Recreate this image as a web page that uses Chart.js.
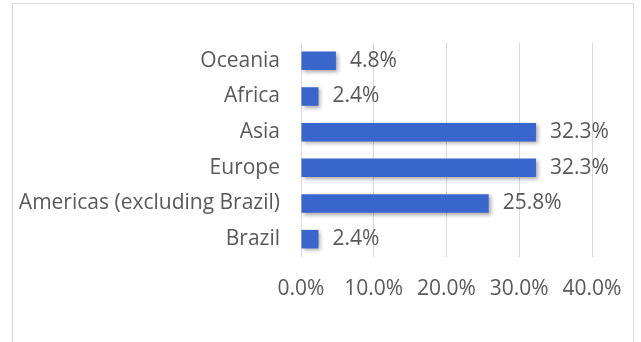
<!DOCTYPE html>
<html>
<head>
<meta charset="utf-8">
<script src="https://cdn.jsdelivr.net/npm/chart.js@4.4.0/dist/chart.umd.min.js"></script>
<style>
  html, body { margin: 0; padding: 0; background: #fff; }
  #wrap { position: relative; width: 641px; height: 342px; overflow: hidden; }
  #frame { position: absolute; left: 12px; top: 3px; width: 622px; height: 360px; border: 1px solid #d9d9d9; box-sizing: border-box; }
  #c { position: absolute; left: 0; top: 0; }
</style>
</head>
<body>
<div id="wrap">
  <div id="frame"></div>
  <canvas id="c" width="641" height="342"></canvas>
</div>
<script>
// regions, top to bottom as in the chart
const regions = ["Oceania", "Africa", "Asia", "Europe", "Americas (excluding Brazil)", "Brazil"];
const shares = [4.8, 2.4, 32.3, 32.3, 25.8, 2.4];
const axisTicks = [0, 10, 20, 30, 40];

const textColor = "#595959";
const fontFamily = "'Open Sans', sans-serif";
const fontSize = 21;

const pct = (v) => v.toFixed(1) + "%";

// bar shadow, a bit like the excel one
const shadowPlugin = {
  id: "barShadow",
  beforeDatasetsDraw(chart) {
    const ctx = chart.ctx;
    ctx.save();
    ctx.shadowColor = "rgba(0,0,0,0.35)";
    ctx.shadowBlur = 4;
    ctx.shadowOffsetX = 2;
    ctx.shadowOffsetY = 2;
  },
  afterDatasetsDraw(chart) {
    chart.ctx.restore();
  }
};

// value labels right of each bar
const valueLabels = {
  id: "valueLabels",
  afterDraw(chart) {
    const ctx = chart.ctx;
    const meta = chart.getDatasetMeta(0);
    ctx.save();
    ctx.font = fontSize + "px " + fontFamily;
    ctx.fillStyle = textColor;
    ctx.textAlign = "left";
    ctx.textBaseline = "middle";
    meta.data.forEach((bar, i) => {
      ctx.fillText(pct(shares[i]), bar.x + 14, bar.y);
    });
    ctx.restore();
  }
};

const chart = new Chart(document.getElementById("c"), {
  type: "bar",
  data: {
    labels: regions,
    datasets: [{
      data: shares,
      backgroundColor: "#3866cc",
      borderWidth: 0,
      barPercentage: 0.52,
      categoryPercentage: 1.0
    }]
  },
  options: {
    indexAxis: "y",
    responsive: false,
    animation: false,
    layout: { padding: { top: 43, right: 49, left: 0, bottom: 0 } },
    plugins: {
      legend: { display: false },
      tooltip: { enabled: false }
    },
    scales: {
      x: {
        min: 0,
        max: 40,
        afterBuildTicks: (scale) => {
          scale.ticks = axisTicks.map(v => ({ value: v }));
        },
        afterFit: (scale) => { scale.height = 85; },
        grid: { color: "#d9d9d9", drawTicks: false },
        border: { display: false },
        ticks: {
          padding: 19,
          color: textColor,
          font: { family: fontFamily, size: fontSize },
          callback: (v) => pct(v)
        }
      },
      y: {
        afterFit: (scale) => { scale.width = 301; },
        grid: { display: false, drawTicks: false },
        border: { display: false },
        ticks: {
          padding: 21,
          color: textColor,
          font: { family: fontFamily, size: fontSize }
        }
      }
    }
  },
  plugins: [shadowPlugin, valueLabels]
});
</script>
</body>
</html>
